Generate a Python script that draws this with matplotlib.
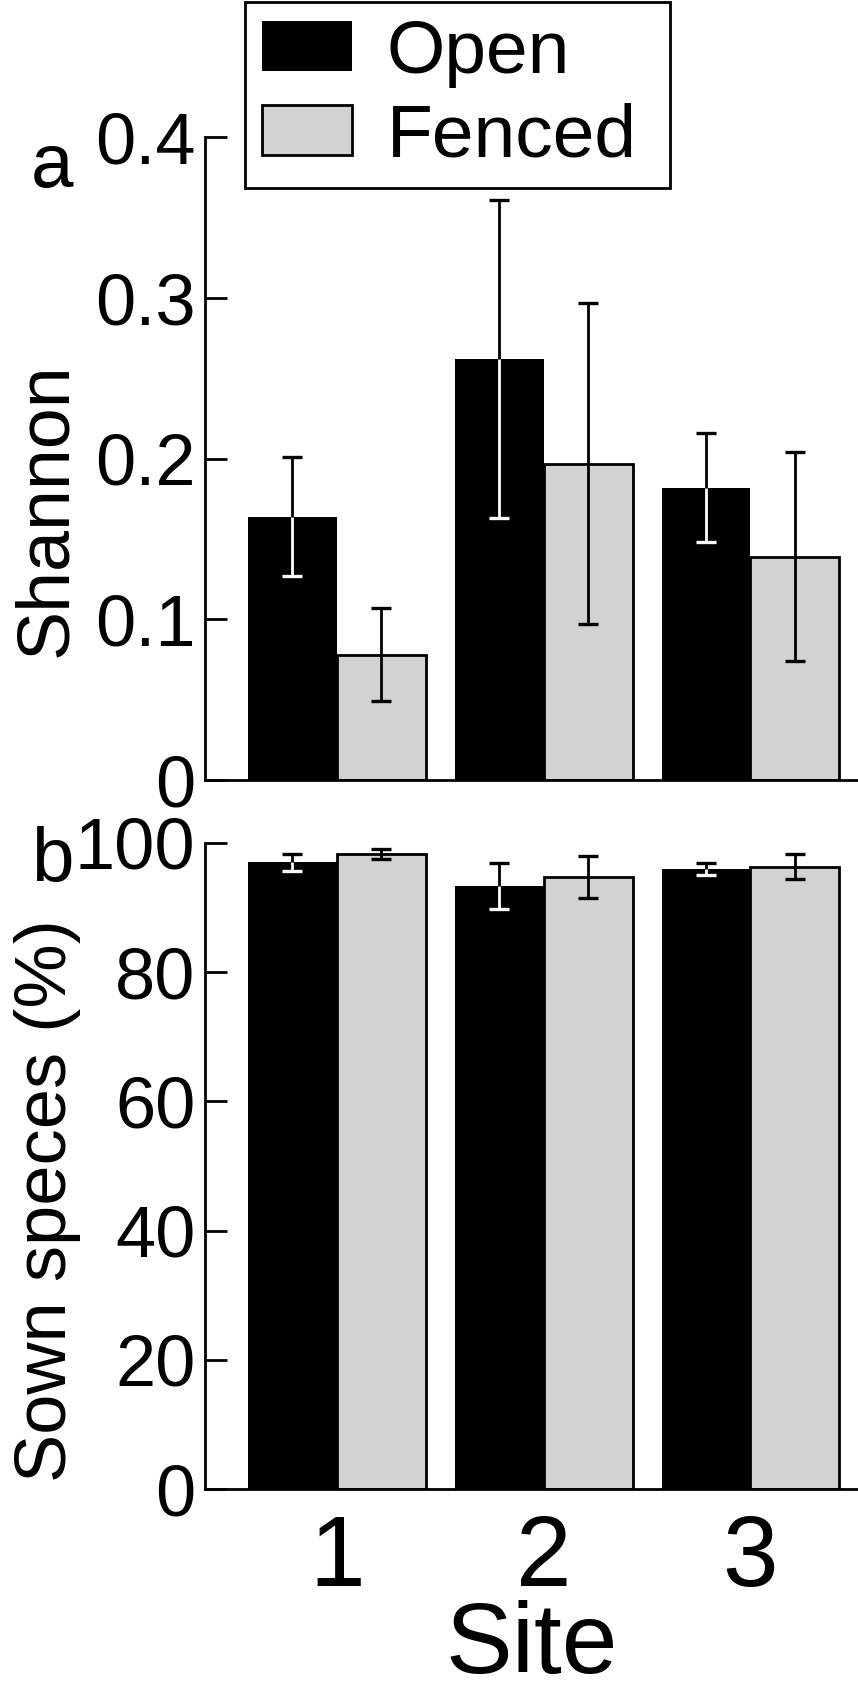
import matplotlib
matplotlib.use("Agg")
import matplotlib.pyplot as plt
import numpy as np
from matplotlib.patches import Patch

SITES = ["1", "2", "3"]
GROUPS = ["Open", "Fenced"]

SHANNON_OPEN = [0.164, 0.262, 0.182]
SHANNON_OPEN_ERR = [0.037, 0.099, 0.034]
SHANNON_FENCED = [0.078, 0.197, 0.139]
SHANNON_FENCED_ERR = [0.029, 0.100, 0.065]

SOWN_OPEN = [97.0, 93.3, 95.9]
SOWN_OPEN_ERR = [1.3, 3.6, 0.9]
SOWN_FENCED = [98.3, 94.7, 96.3]
SOWN_FENCED_ERR = [0.75, 3.3, 1.9]

GREY = "#d1d2d4"
W = 0.43
LW = 2.0
ELW = 2.0
CAP = 14
CAPW = 2.4


def style_axis(ax, ylim, yticks, yticklabels):
    for side in ("top", "right"):
        ax.spines[side].set_visible(False)
    ax.spines["left"].set_linewidth(LW)
    ax.spines["bottom"].set_linewidth(LW)
    ax.set_xlim(0.362, 3.52)
    ax.set_ylim(*ylim)
    ax.set_yticks(yticks)
    ax.set_yticklabels(yticklabels)
    ax.tick_params(axis="y", direction="in", length=16, width=LW, pad=7, labelsize=52)
    ax.tick_params(axis="x", length=0)


def err_part(ax, x, y0, y1, color):
    # one half of an error bar: line from bar top to the end, cap at the end
    ax.vlines(x, y0, y1, colors=color, linewidth=ELW, zorder=3)
    ax.plot(x, y1, marker="_", ms=CAP, mew=CAPW, color=color, ls="none", zorder=4)


def draw_bars(ax, open_v, open_e, fenced_v, fenced_e):
    x = np.arange(1, len(SITES) + 1)
    ax.bar(x - W / 2, open_v, W, color="black", edgecolor="black", linewidth=0, zorder=2)
    ax.bar(x + W / 2, fenced_v, W, color=GREY, edgecolor="black", linewidth=LW, zorder=2)
    for xi, v, e in zip(x - W / 2, open_v, open_e):
        err_part(ax, xi, v, v + e, "black")
        err_part(ax, xi, v, v - e, "white")
    for xi, v, e in zip(x + W / 2, fenced_v, fenced_e):
        err_part(ax, xi, v, v + e, "black")
        err_part(ax, xi, v, v - e, "black")
    return x


def main():
    plt.rcParams["font.family"] = ["Liberation Sans", "DejaVu Sans"]
    fig = plt.figure(figsize=(8.58, 16.95), dpi=100)

    left = 205 / 858
    ax1 = fig.add_axes([left, 0.5398, 1 - left, 0.9189 - 0.5398])
    ax2 = fig.add_axes([left, 0.1215, 1 - left, 0.5028 - 0.1215])

    draw_bars(ax1, SHANNON_OPEN, SHANNON_OPEN_ERR, SHANNON_FENCED, SHANNON_FENCED_ERR)
    style_axis(ax1, (0, 0.4), [0, 0.1, 0.2, 0.3, 0.4], ["0", "0.1", "0.2", "0.3", "0.4"])
    ax1.set_xticks([])
    ax1.set_ylabel("Shannon", fontsize=53)
    ax1.yaxis.set_label_coords(-0.19, 0.42)

    x = draw_bars(ax2, SOWN_OPEN, SOWN_OPEN_ERR, SOWN_FENCED, SOWN_FENCED_ERR)
    style_axis(ax2, (0, 100), [0, 20, 40, 60, 80, 100], ["0", "20", "40", "60", "80", "100"])
    ax2.set_xticks(x)
    ax2.set_xticklabels(SITES)
    ax2.tick_params(axis="x", pad=17, labelsize=72)
    ax2.set_ylabel("Sown speces (%)", fontsize=52)
    ax2.yaxis.set_label_coords(-0.19, 0.446)
    ax2.set_xlabel("Site", fontsize=72)
    ax2.xaxis.set_label_coords(0.5, -0.172)

    fig.text(52 / 858, 1 - 167 / 1695, "a", fontsize=55, ha="center", va="center")
    fig.text(52 / 858, 1 - 862 / 1695, "b", fontsize=55, ha="center", va="center")

    handles = [Patch(facecolor="black", edgecolor="black", linewidth=0),
               Patch(facecolor=GREY, edgecolor="black", linewidth=LW)]
    leg = fig.legend(handles, GROUPS, loc="upper left", mode="expand",
                     bbox_to_anchor=(245 / 858, 1 - 2 / 1695, 425 / 858, 0.0),
                     bbox_transform=fig.transFigure, fontsize=54, frameon=True,
                     fancybox=False, edgecolor="black", framealpha=1,
                     handlelength=1.2, handleheight=0.66, handletextpad=0.47,
                     labelspacing=0.2, borderpad=0.22, borderaxespad=0)
    leg.get_frame().set_linewidth(LW)

    fig.savefig("out.png", dpi=100)
    plt.close(fig)


if __name__ == "__main__":
    main()
